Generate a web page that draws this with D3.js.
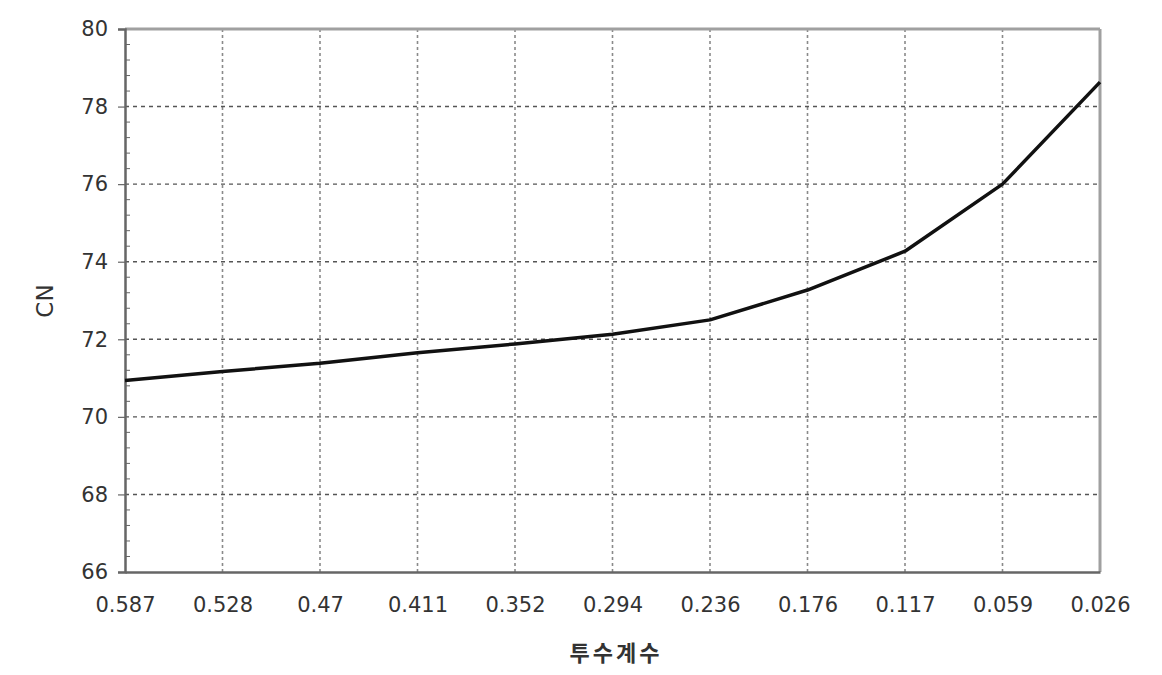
<!DOCTYPE html>
<html><head><meta charset="utf-8">
<script src="https://cdn.jsdelivr.net/npm/d3@7"></script>
<style>body{margin:0;background:#fff}</style>
</head><body>
<svg id="c" width="1162" height="675"></svg>
<script>
const categories = ["0.587","0.528","0.47","0.411","0.352","0.294","0.236","0.176","0.117","0.059","0.026"];
const cnValues = [70.94, 71.17, 71.38, 71.65, 71.88, 72.13, 72.5, 73.27, 74.27, 76.0, 78.63];
const yTicks = [66, 68, 70, 72, 74, 76, 78, 80];
const xTitle = "투수계수";
const yTitle = "CN";

const W = 1162, H = 675;
const m = {left:125, right:62, top:29, bottom:103};
const svg = d3.select("#c");
const x = d3.scalePoint().domain(categories).range([m.left, W - m.right]).padding(0);
const y = d3.scaleLinear().domain([66, 80]).range([H - m.bottom, m.top]);
const font = "'DejaVu Sans', Verdana, sans-serif";

// vertical gridlines
svg.append("g").selectAll("line").data(categories.slice(1, -1)).join("line")
  .attr("x1", d => x(d)).attr("x2", d => x(d))
  .attr("y1", y(80)).attr("y2", y(66))
  .attr("stroke", "#8a8a8a").attr("stroke-width", 1.6).attr("stroke-dasharray", "3,3");
// horizontal gridlines
svg.append("g").selectAll("line").data(yTicks.slice(1, -1)).join("line")
  .attr("x1", x.range()[0]).attr("x2", x.range()[1])
  .attr("y1", d => y(d)).attr("y2", d => y(d))
  .attr("stroke", "#555").attr("stroke-width", 1.4).attr("stroke-dasharray", "4,4");

// frame top/right
svg.append("line").attr("x1", x.range()[0]).attr("x2", x.range()[1]).attr("y1", y(80)).attr("y2", y(80))
  .attr("stroke", "#a0a0a0").attr("stroke-width", 3);
svg.append("line").attr("x1", x.range()[1]).attr("x2", x.range()[1]).attr("y1", y(80)).attr("y2", y(66))
  .attr("stroke", "#a0a0a0").attr("stroke-width", 3);

// minor ticks on y (inside)
const minor = d3.range(66, 80.001, 0.4).filter(v => Math.abs(v - Math.round(v/2)*2) > 0.01);
svg.append("g").selectAll("line").data(minor).join("line")
  .attr("x1", m.left).attr("x2", m.left + 5)
  .attr("y1", d => y(d)).attr("y2", d => y(d))
  .attr("stroke", "#666").attr("stroke-width", 1);

// y axis
const ya = svg.append("g").attr("transform", `translate(${m.left},0)`)
  .call(d3.axisLeft(y).tickValues(yTicks).tickSize(7).tickPadding(10));
ya.select(".domain").attr("stroke", "#666").attr("stroke-width", 2.5);
ya.selectAll(".tick line").attr("stroke", "#666").attr("stroke-width", 1.2);
ya.selectAll("text").attr("font-family", font).attr("font-size", 21).attr("fill", "#333");

// x axis
const xa = svg.append("g").attr("transform", `translate(0,${y(66)})`)
  .call(d3.axisBottom(x).tickSize(0).tickPadding(25));
xa.select(".domain").attr("stroke", "#666").attr("stroke-width", 2.5);
xa.selectAll("text").attr("font-family", font).attr("font-size", 21).attr("fill", "#333");

// line
svg.append("path").datum(cnValues)
  .attr("fill", "none").attr("stroke", "#111").attr("stroke-width", 3.5)
  .attr("stroke-linejoin", "round")
  .attr("d", d3.line().x((d, i) => x(categories[i])).y(d => y(d)));

// titles
svg.append("text").attr("x", 616).attr("y", 661).attr("text-anchor", "middle")
  .attr("font-family", "'Noto Sans CJK KR', sans-serif").attr("font-size", 22).attr("font-weight", "bold")
  .attr("letter-spacing", 3).attr("fill", "#333").text(xTitle);
svg.append("text").attr("transform", "translate(53,301) rotate(-90)").attr("text-anchor", "middle")
  .attr("font-family", font).attr("font-size", 23).attr("fill", "#333").text(yTitle);
</script>
</body></html>
